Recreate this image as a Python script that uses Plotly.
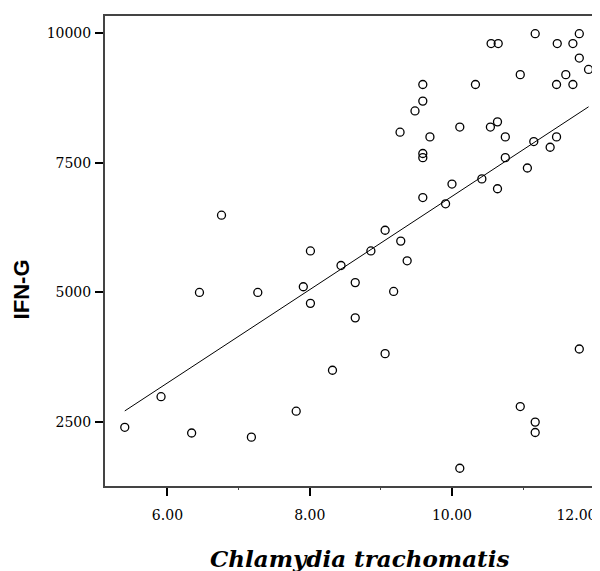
import numpy as np
import plotly.graph_objects as go

# Chlamydia trachomatis (x) vs IFN-G (y)
x_vals = [6.76, 6.45, 7.27, 7.91, 5.91, 5.40, 6.34, 7.18, 7.81, 8.01,
          8.64, 9.18, 8.64, 9.06, 8.32, 11.79, 10.96, 11.17, 11.17, 10.11,
          10.55, 10.65, 11.17, 11.48, 11.70, 11.79, 11.79, 11.92, 10.96, 11.60,
          11.47, 11.70, 10.33, 9.59, 9.59, 9.48, 9.27, 9.69, 10.11, 10.54,
          10.64, 10.75, 9.59, 9.59, 11.15, 11.47, 11.38, 10.75, 11.06, 10.00,
          10.42, 10.64, 9.59, 9.91, 9.06, 9.28, 8.86, 8.01, 9.37, 8.44]
y_vals = [6490, 5000, 5000, 5110, 2990, 2400, 2290, 2210, 2710, 4790,
          5190, 5020, 4510, 3820, 3500, 3910, 2800, 2500, 2300, 1610,
          9800, 9800, 9990, 9800, 9800, 9990, 9520, 9300, 9200, 9200,
          9010, 9010, 9010, 9010, 8690, 8500, 8090, 8000, 8190, 8190,
          8290, 8000, 7680, 7600, 7910, 8000, 7800, 7600, 7400, 7090,
          7190, 7000, 6830, 6710, 6200, 5990, 5800, 5800, 5610, 5520]

x_ticks = [6, 8, 10, 12]
y_ticks = [2500, 5000, 7500, 10000]
x_title = "Chlamydia trachomatis"
y_title = "IFN-G"

# tick label texts; the last one is padded with no-break spaces so that it
# stays inside the page at the right edge, as in the reference
x_tick_text = [f"{v:.2f}" for v in x_ticks]
x_tick_text[-1] = x_tick_text[-1] + "\u00a0" * 8
y_tick_text = [str(v) for v in y_ticks]

xa = np.array(x_vals)
ya = np.array(y_vals)
slope, intercept = np.polyfit(xa, ya, 1)
line_x = np.array([xa.min(), xa.max()])
line_y = slope * line_x + intercept

fig = go.Figure()
fig.add_trace(go.Scatter(
    x=x_vals, y=y_vals, mode="markers",
    marker=dict(symbol="circle-open", size=8, color="black",
                line=dict(width=1.3, color="black")),
    showlegend=False, hoverinfo="x+y"))
fig.add_trace(go.Scatter(
    x=line_x, y=line_y, mode="lines",
    line=dict(color="black", width=1), showlegend=False))

tick_font = dict(family="DejaVu Serif", size=14, color="black")

# the page body has an 8px default margin, so the figure is 8px smaller
fig.update_layout(
    width=592, height=563,
    margin=dict(l=97, r=0, t=8, b=85, autoexpand=False),
    paper_bgcolor="white", plot_bgcolor="white",
    xaxis=dict(range=[5.122, 12.081], tickvals=x_ticks, ticktext=x_tick_text,
               automargin=False, ticklabeloverflow="allow",
               showgrid=False, zeroline=False,
               showline=True, linecolor="#444", linewidth=2, mirror=True,
               ticks="outside", ticklen=8, tickwidth=2, tickcolor="black",
               ticklabelstandoff=7, tickfont=tick_font,
               minor=dict(dtick=1, tick0=0, ticks="outside", ticklen=2,
                          tickwidth=1, tickcolor="#444", showgrid=False)),
    yaxis=dict(range=[1268, 10331], tickvals=y_ticks, ticktext=y_tick_text,
               automargin=False,
               showgrid=False, zeroline=False,
               showline=True, linecolor="#444", linewidth=2, mirror=False,
               ticks="outside", ticklen=8, tickwidth=2, tickcolor="black",
               ticklabelstandoff=1, tickfont=tick_font),
    annotations=[
        dict(text="<b><i>" + x_title + "</i></b>", xref="paper", yref="paper",
             x=0.515, y=-0.155, xanchor="center", yanchor="middle",
             showarrow=False,
             font=dict(family="DejaVu Serif", size=23, color="black")),
        dict(text="<b>" + y_title + "</b>", xref="paper", yref="paper",
             x=-0.168, y=0.418, xanchor="center", yanchor="middle",
             textangle=-90, showarrow=False,
             font=dict(family="Liberation Sans", size=22, color="black")),
    ],
)

fig.write_html("out.html")
